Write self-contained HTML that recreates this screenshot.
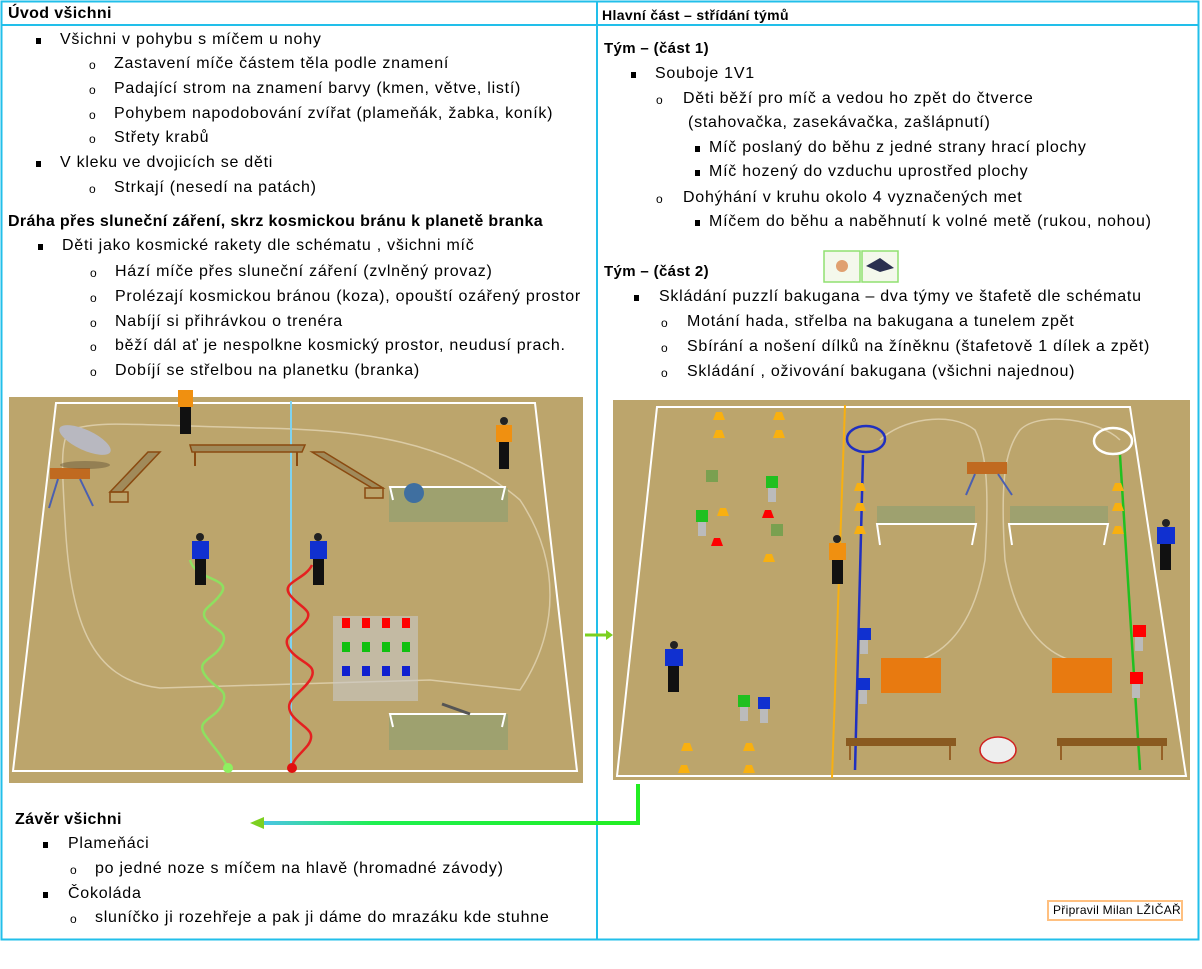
<!DOCTYPE html>
<html><head><meta charset="utf-8"><style>
body{margin:0;width:1202px;height:969px;background:#fff;position:relative;overflow:hidden;font-family:"Liberation Sans",sans-serif;color:#000}
.t{position:absolute;white-space:nowrap;font-size:16px;line-height:18px;letter-spacing:0.75px}
.b{font-weight:bold;letter-spacing:0.35px}
.sq{position:absolute;width:5px;height:6px;background:#000}
.o{position:absolute;font-size:12px;line-height:12px}
svg{position:absolute;left:0;top:0}
</style></head><body>
<svg width="1202" height="969" viewBox="0 0 1202 969">
<defs><linearGradient id="ag" x1="0" x2="1"><stop offset="0" stop-color="#4cc4e8"/><stop offset="0.3" stop-color="#1ef050"/><stop offset="1" stop-color="#22ee22"/></linearGradient></defs>
<rect x="1.5" y="1.5" width="1197" height="938" fill="none" stroke="#22bfea" stroke-width="2"/>
<line x1="1" y1="25" x2="1199" y2="25" stroke="#22bfea" stroke-width="2"/>
<line x1="597" y1="1" x2="597" y2="940" stroke="#22bfea" stroke-width="2"/>
<rect x="9" y="397" width="574" height="386" fill="#bca56c"/>
<polygon points="56,403 535,403 577,771 13,771" fill="none" stroke="#fff" stroke-width="2"/>
<path d="M70,430 C100,420 130,425 260,428 C360,430 450,440 520,500 C560,560 560,630 520,690 L430,680 L160,688 C90,680 70,620 65,520 C62,470 60,440 70,430Z" fill="none" stroke="#e2d5b4" stroke-width="1.5" opacity="0.8"/>
<line x1="291" y1="401" x2="291" y2="771" stroke="#7fd3f0" stroke-width="2"/>
<polygon points="190,445 305,445 302,452 192,452" fill="#a08a5a" stroke="#8a4a10" stroke-width="1.5"/>
<line x1="195" y1="452" x2="195" y2="466" stroke="#8a4a10" stroke-width="2"/><line x1="297" y1="452" x2="297" y2="466" stroke="#8a4a10" stroke-width="2"/>
<polygon points="148,452 160,452 122,492 110,492" fill="#a08a5a" stroke="#8a4a10" stroke-width="1.5"/>
<rect x="110" y="492" width="18" height="10" fill="none" stroke="#8a4a10" stroke-width="1.5"/>
<polygon points="312,452 324,452 383,488 372,488" fill="#a08a5a" stroke="#8a4a10" stroke-width="1.5"/>
<rect x="365" y="488" width="18" height="10" fill="none" stroke="#8a4a10" stroke-width="1.5"/>
<rect x="50" y="468" width="40" height="11" fill="#c06a20"/>
<line x1="58" y1="479" x2="49" y2="508" stroke="#4b5fb0" stroke-width="2"/><line x1="80" y1="479" x2="93" y2="506" stroke="#4b5fb0" stroke-width="2"/>
<ellipse cx="85" cy="440" rx="28" ry="10" fill="#b8b8c0" transform="rotate(25 85 440)"/>
<ellipse cx="85" cy="465" rx="25" ry="4" fill="#6a5a3a" opacity="0.5"/>
<rect x="389" y="488" width="119" height="34" fill="#96a070" opacity="0.8"/>
<path d="M393,500 L390,487 L505,487 L502,500" fill="none" stroke="#fff" stroke-width="2"/>
<circle cx="414" cy="493" r="10" fill="#3f6fa0"/>
<rect x="389" y="714" width="119" height="36" fill="#96a070" opacity="0.8"/>
<path d="M393,727 L390,714 L505,714 L502,727" fill="none" stroke="#fff" stroke-width="2"/>
<line x1="442" y1="704" x2="470" y2="714" stroke="#555" stroke-width="3"/>
<path d="M190,560 C195,580 230,578 222,592 C214,606 200,608 205,618 C212,630 230,630 222,645 C214,660 195,660 205,675 C215,690 230,688 222,705 C214,720 195,720 205,735 C214,748 222,755 228,768" fill="none" stroke="#8ee060" stroke-width="2.5"/>
<path d="M312,565 C305,580 280,582 290,595 C300,608 315,610 305,622 C295,634 280,636 290,650 C300,664 320,664 310,680 C300,695 282,700 292,715 C302,728 318,730 308,745 C300,755 292,760 292,768" fill="none" stroke="#e52020" stroke-width="2.5"/>
<circle cx="228" cy="768" r="5" fill="#8ef060"/><circle cx="292" cy="768" r="5" fill="#e01010"/>
<g><rect x="178" y="390" width="15" height="17" fill="#f09010"/><rect x="180" y="407" width="11" height="27" fill="#111"/></g>
<g><circle cx="504" cy="421" r="4" fill="#222"/><rect x="496" y="425" width="16" height="17" fill="#f09010"/><rect x="499" y="442" width="10" height="27" fill="#111"/></g>
<g><circle cx="200" cy="537" r="4" fill="#222"/><rect x="192" y="541" width="17" height="18" fill="#1030d0"/><rect x="195" y="559" width="11" height="26" fill="#111"/></g>
<g><circle cx="318" cy="537" r="4" fill="#222"/><rect x="310" y="541" width="17" height="18" fill="#1030d0"/><rect x="313" y="559" width="11" height="26" fill="#111"/></g>
<g fill="#c8c8c8"><rect x="333" y="616" width="85" height="85" opacity="0.6"/></g>
<g fill="#f00"><rect x="342" y="618" width="8" height="10"/><rect x="362" y="618" width="8" height="10"/><rect x="382" y="618" width="8" height="10"/><rect x="402" y="618" width="8" height="10"/></g>
<g fill="#10c010"><rect x="342" y="642" width="8" height="10"/><rect x="362" y="642" width="8" height="10"/><rect x="382" y="642" width="8" height="10"/><rect x="402" y="642" width="8" height="10"/></g>
<g fill="#1020d0"><rect x="342" y="666" width="8" height="10"/><rect x="362" y="666" width="8" height="10"/><rect x="382" y="666" width="8" height="10"/><rect x="402" y="666" width="8" height="10"/></g>
<path d="M585,635 L608,635" stroke="#7cd020" stroke-width="3"/><polygon points="606,630 613,635 606,640" fill="#7cd020"/>
<rect x="613" y="400" width="577" height="380" fill="#bca56c"/>
<polygon points="657,407 1130,407 1186,776 617,776" fill="none" stroke="#fff" stroke-width="2"/>
<path d="M880,440 C900,420 950,410 975,430 C985,450 990,480 985,560 C975,620 950,650 920,660 M1120,440 C1100,420 1040,410 1020,430 C1005,450 1000,480 1005,560 C1015,620 1040,650 1070,660" fill="none" stroke="#e2d5b4" stroke-width="1.5" opacity="0.8"/>
<line x1="845" y1="405" x2="832" y2="778" stroke="#f8b010" stroke-width="2"/>
<line x1="863" y1="455" x2="855" y2="770" stroke="#2030c0" stroke-width="2.5"/>
<line x1="1120" y1="455" x2="1140" y2="770" stroke="#20c020" stroke-width="2.5"/>
<ellipse cx="866" cy="439" rx="19" ry="13" fill="none" stroke="#2030c0" stroke-width="2.5"/>
<ellipse cx="1113" cy="441" rx="19" ry="13" fill="none" stroke="#fff" stroke-width="2.5"/>
<rect x="967" y="462" width="40" height="12" fill="#c06a20"/>
<line x1="975" y1="474" x2="966" y2="495" stroke="#4b5fb0" stroke-width="2"/><line x1="998" y1="474" x2="1012" y2="495" stroke="#4b5fb0" stroke-width="2"/>
<rect x="877" y="506" width="98" height="18" fill="#96a070" opacity="0.8"/>
<path d="M880,545 L877,524 L976,524 L972,545" fill="none" stroke="#fff" stroke-width="2"/>
<rect x="1010" y="506" width="98" height="18" fill="#96a070" opacity="0.8"/>
<path d="M1012,545 L1009,524 L1108,524 L1104,545" fill="none" stroke="#fff" stroke-width="2"/>
<rect x="881" y="658" width="60" height="35" fill="#e87a10"/>
<rect x="1052" y="658" width="60" height="35" fill="#e87a10"/>
<g fill="#8a5a20"><rect x="846" y="738" width="110" height="8"/><rect x="1057" y="738" width="110" height="8"/></g>
<g stroke="#8a4a10" stroke-width="1.5"><line x1="850" y1="746" x2="850" y2="760"/><line x1="950" y1="746" x2="950" y2="760"/><line x1="1061" y1="746" x2="1061" y2="760"/><line x1="1162" y1="746" x2="1162" y2="760"/></g>
<ellipse cx="998" cy="750" rx="18" ry="13" fill="#eee" stroke="#d02020" stroke-width="1.5"/>
<g fill="#f8b010"><polygon points="716,412 722,412 725,420 713,420"/><polygon points="776,412 782,412 785,420 773,420"/><polygon points="716,430 722,430 725,438 713,438"/><polygon points="776,430 782,430 785,438 773,438"/>
<polygon points="720,508 726,508 729,516 717,516"/><polygon points="766,554 772,554 775,562 763,562"/><polygon points="681,765 687,765 690,773 678,773"/><polygon points="746,765 752,765 755,773 743,773"/><polygon points="684,743 690,743 693,751 681,751"/><polygon points="746,743 752,743 755,751 743,751"/>
<polygon points="857,483 863,483 866,491 854,491"/><polygon points="857,503 863,503 866,511 854,511"/><polygon points="857,526 863,526 866,534 854,534"/><polygon points="1115,483 1121,483 1124,491 1112,491"/><polygon points="1115,503 1121,503 1124,511 1112,511"/><polygon points="1115,526 1121,526 1124,534 1112,534"/></g>
<g fill="#f00"><polygon points="765,510 771,510 774,518 762,518"/><polygon points="714,538 720,538 723,546 711,546"/></g>
<g><circle cx="837" cy="539" r="4" fill="#222"/><rect x="829" y="543" width="17" height="17" fill="#f09010"/><rect x="832" y="560" width="11" height="24" fill="#111"/></g>
<g><circle cx="674" cy="645" r="4" fill="#222"/><rect x="665" y="649" width="18" height="17" fill="#1030d0"/><rect x="668" y="666" width="11" height="26" fill="#111"/></g>
<g><circle cx="1166" cy="523" r="4" fill="#222"/><rect x="1157" y="527" width="18" height="17" fill="#1030d0"/><rect x="1160" y="544" width="11" height="26" fill="#111"/></g>
<g><rect x="766" y="476" width="12" height="12" fill="#20c020"/><rect x="768" y="488" width="8" height="14" fill="#bbb"/>
<rect x="696" y="510" width="12" height="12" fill="#20c020"/><rect x="698" y="522" width="8" height="14" fill="#bbb"/>
<rect x="706" y="470" width="12" height="12" fill="#7aa050"/><rect x="771" y="524" width="12" height="12" fill="#7aa050"/>
<rect x="738" y="695" width="12" height="12" fill="#20c020"/><rect x="740" y="707" width="8" height="14" fill="#bbb"/>
<rect x="758" y="697" width="12" height="12" fill="#1030d0"/><rect x="760" y="709" width="8" height="14" fill="#bbb"/>
<rect x="858" y="628" width="13" height="12" fill="#1030d0"/><rect x="860" y="640" width="8" height="14" fill="#bbb"/>
<rect x="857" y="678" width="13" height="12" fill="#1030d0"/><rect x="859" y="690" width="8" height="14" fill="#bbb"/>
<rect x="1133" y="625" width="13" height="12" fill="#f00"/><rect x="1135" y="637" width="8" height="14" fill="#bbb"/>
<rect x="1130" y="672" width="13" height="12" fill="#f00"/><rect x="1132" y="684" width="8" height="14" fill="#bbb"/></g>
<rect x="824" y="251" width="36" height="31" fill="#f4f8ec" stroke="#90e070" stroke-width="1.5"/>
<rect x="862" y="251" width="36" height="31" fill="#f4f8ec" stroke="#90e070" stroke-width="1.5"/>
<circle cx="842" cy="266" r="6" fill="#e0a070"/><path d="M866,266 L880,258 L894,268 L880,272Z" fill="#2a3050"/>
<path d="M638,784 L638,823 L262,823" fill="none" stroke="url(#ag)" stroke-width="4"/>
<polygon points="264,817 250,823 264,829" fill="#7cd020"/>
<rect x="1048" y="901" width="134" height="19" fill="#fff" stroke="#ffc080" stroke-width="2"/>
</svg>

<div class="t b" style="left:8px;top:5px">Úvod všichni</div>
<div class="sq" style="left:36px;top:38px"></div><div class="t" style="left:60px;top:31px">Všichni v pohybu s míčem u nohy</div>
<div class="o" style="left:89px;top:59px">o</div><div class="t" style="left:114px;top:55px">Zastavení míče částem těla podle znamení</div>
<div class="o" style="left:89px;top:84px">o</div><div class="t" style="left:114px;top:80px">Padající strom na znamení barvy (kmen, větve, listí)</div>
<div class="o" style="left:89px;top:109px">o</div><div class="t" style="left:114px;top:105px">Pohybem napodobování zvířat (plameňák, žabka, koník)</div>
<div class="o" style="left:89px;top:133px">o</div><div class="t" style="left:114px;top:129px">Střety krabů</div>
<div class="sq" style="left:36px;top:161px"></div><div class="t" style="left:60px;top:154px">V kleku ve dvojicích se děti</div>
<div class="o" style="left:89px;top:183px">o</div><div class="t" style="left:114px;top:179px">Strkají (nesedí na patách)</div>
<div class="t b" style="left:8px;top:213px">Dráha přes sluneční záření, skrz kosmickou bránu k planetě branka</div>
<div class="sq" style="left:38px;top:244px"></div><div class="t" style="left:62px;top:237px">Děti jako kosmické rakety dle schématu , všichni míč</div>
<div class="o" style="left:90px;top:267px">o</div><div class="t" style="left:115px;top:263px">Hází míče přes sluneční záření (zvlněný provaz)</div>
<div class="o" style="left:90px;top:292px">o</div><div class="t" style="left:115px;top:288px">Prolézají kosmickou bránou (koza), opouští ozářený prostor</div>
<div class="o" style="left:90px;top:317px">o</div><div class="t" style="left:115px;top:313px">Nabíjí si přihrávkou o trenéra</div>
<div class="o" style="left:90px;top:341px">o</div><div class="t" style="left:115px;top:337px">běží dál ať je nespolkne kosmický prostor, neudusí prach.</div>
<div class="o" style="left:90px;top:366px">o</div><div class="t" style="left:115px;top:362px">Dobíjí se střelbou na planetku (branka)</div>

<div class="t b" style="left:15px;top:811px">Závěr všichni</div>
<div class="sq" style="left:43px;top:842px"></div><div class="t" style="left:68px;top:835px">Plameňáci</div>
<div class="o" style="left:70px;top:864px">o</div><div class="t" style="left:95px;top:860px">po jedné noze s míčem na hlavě (hromadné závody)</div>
<div class="sq" style="left:43px;top:892px"></div><div class="t" style="left:68px;top:885px">Čokoláda</div>
<div class="o" style="left:70px;top:913px">o</div><div class="t" style="left:95px;top:909px">sluníčko ji rozehřeje a pak ji dáme do mrazáku kde stuhne</div>

<div class="t b" style="left:602px;top:6px;font-size:14px">Hlavní část – střídání týmů</div>
<div class="t b" style="left:604px;top:40px;font-size:15px">Tým – (část 1)</div>
<div class="sq" style="left:631px;top:72px"></div><div class="t" style="left:655px;top:65px">Souboje 1V1</div>
<div class="o" style="left:656px;top:94px">o</div><div class="t" style="left:683px;top:90px">Děti běží pro míč a vedou ho zpět do čtverce</div>
<div class="t" style="left:688px;top:114px">(stahovačka, zasekávačka, zašlápnutí)</div>
<div class="sq" style="left:695px;top:146px"></div><div class="t" style="left:709px;top:139px">Míč poslaný do běhu z jedné strany hrací plochy</div>
<div class="sq" style="left:695px;top:170px"></div><div class="t" style="left:709px;top:163px">Míč hozený do vzduchu uprostřed plochy</div>
<div class="o" style="left:656px;top:193px">o</div><div class="t" style="left:683px;top:189px">Dohýhání v kruhu okolo 4 vyznačených met</div>
<div class="sq" style="left:695px;top:220px"></div><div class="t" style="left:709px;top:213px">Míčem do běhu a naběhnutí k volné metě (rukou, nohou)</div>
<div class="t b" style="left:604px;top:263px;font-size:15px">Tým – (část 2)</div>
<div class="sq" style="left:634px;top:295px"></div><div class="t" style="left:659px;top:288px">Skládání puzzlí bakugana – dva týmy ve štafetě dle schématu</div>
<div class="o" style="left:661px;top:317px">o</div><div class="t" style="left:687px;top:313px">Motání hada, střelba na bakugana a tunelem zpět</div>
<div class="o" style="left:661px;top:342px">o</div><div class="t" style="left:687px;top:338px">Sbírání a nošení dílků na žíněknu (štafetově 1 dílek a zpět)</div>
<div class="o" style="left:661px;top:367px">o</div><div class="t" style="left:687px;top:363px">Skládání , oživování bakugana (všichni najednou)</div>
<div class="t" style="left:1053px;top:903px;font-size:12px;line-height:15px;letter-spacing:0.3px">Připravil Milan LŽIČAŘ</div>
</body></html>
